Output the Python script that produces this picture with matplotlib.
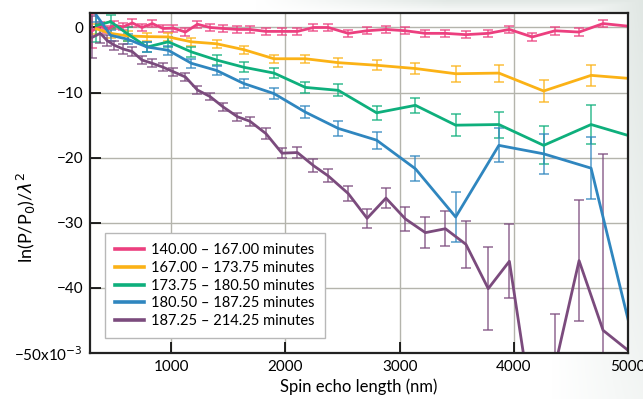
import numpy as np
import matplotlib.pyplot as plt
from matplotlib.colors import to_rgba
from matplotlib.lines import Line2D

plt.rcParams['font.family'] = 'Lato'
plt.rcParams['font.size'] = 11
plt.rcParams['mathtext.fontset'] = 'dejavusans'

# spin echo lengths (nm): fine grid and the coarser, pair-averaged grid
x_fine = [310, 380, 440, 500, 580, 660, 745, 835, 930, 1020, 1125, 1230, 1340, 1455,
          1580, 1690, 1830, 1970, 2105, 2245, 2375, 2550, 2715, 2880, 3050, 3225, 3400,
          3580, 3775, 3960, 4160, 4360, 4570, 4780, 5200]
x_coarse = [345, 470, 620, 790, 975, 1178, 1398, 1635, 1900, 2175, 2463, 2798, 3138,
            3490, 3868, 4260, 4675, 5100]

# ln(P/P0)/lambda^2 in units of 1e-3
y_140 = [-0.5, 0.3, -0.3, 0.35, 0.1, 0.7, 0.0, 0.6, -0.15, -0.1, -0.7, 0.5, 0.0, -0.15,
         -0.3, -0.3, -0.6, -0.6, -0.6, 0.0, 0.0, -0.9, -0.5, -0.3, -0.5, -0.9, -0.9, -1.1,
         -0.9, -0.3, -1.45, -0.5, -0.7, 0.6, -0.16]
e_140 = [2.6, 0.6, 0.6, 0.6, 0.55, 0.55, 0.55, 0.55, 0.55, 0.55, 0.55, 0.55, 0.55, 0.55,
         0.55, 0.55, 0.55, 0.55, 0.55, 0.55, 0.55, 0.55, 0.55, 0.55, 0.55, 0.55, 0.55, 0.55,
         0.55, 0.55, 0.6, 0.6, 0.6, 0.6, 0.0]

y_167 = [-0.2, -0.9, -1.3, -1.4, -1.45, -2.2, -2.5, -3.4, -4.8, -4.8, -5.4, -5.8, -6.3,
         -7.1, -7.0, -9.75, -7.35, -7.95]
e_167 = [0.8, 0.7, 0.7, 0.6, 0.6, 0.6, 0.6, 0.6, 0.6, 0.6, 0.7, 0.8, 0.9, 1.2, 1.3, 1.7,
         1.6, 0.0]

y_173 = [0.3, 0.9, -1.0, -3.0, -2.2, -3.75, -5.0, -6.1, -7.0, -9.2, -9.65, -13.1, -11.95,
         -15.0, -14.9, -18.1, -14.9, -17.1]
e_173 = [2.5, 1.0, 1.0, 0.8, 0.8, 0.8, 0.8, 0.8, 0.8, 0.8, 0.9, 1.1, 1.2, 1.7, 2.0, 2.9,
         3.0, 0.0]

y_180 = [1.9, -1.2, -1.8, -3.0, -3.5, -5.5, -6.6, -8.6, -10.15, -13.0, -15.5, -17.3,
         -21.7, -29.1, -18.1, -19.4, -21.6, -52.1]
e_180 = [1.0, 0.8, 0.8, 0.8, 0.7, 0.7, 0.7, 0.7, 0.8, 0.9, 1.1, 1.3, 1.9, 3.8, 2.6, 3.1,
         4.8, 0.0]

y_187 = [-1.5, -0.9, -2.0, -2.7, -3.3, -3.7, -5.0, -5.5, -6.1, -6.8, -7.6, -9.6, -10.6,
         -12.2, -13.7, -14.4, -16.3, -19.3, -19.2, -21.2, -22.8, -25.5, -29.3, -26.2,
         -29.4, -31.5, -30.9, -33.3, -40.1, -35.9, -59.0, -52.0, -35.8, -46.5, -52.4]
e_187 = [3.2, 1.5, 0.8, 0.7, 0.7, 0.7, 0.6, 0.6, 0.6, 0.6, 0.6, 0.6, 0.6, 0.6, 0.6, 0.7,
         0.8, 0.8, 0.9, 1.0, 1.0, 1.2, 1.5, 1.5, 1.9, 2.4, 2.7, 3.6, 6.4, 5.7, 8.0, 8.0,
         9.3, 27.0, 0.0]

labels = ["140.00 \u2013 167.00 minutes", "167.00 \u2013 173.75 minutes",
          "173.75 \u2013 180.50 minutes", "180.50 \u2013 187.25 minutes",
          "187.25 \u2013 214.25 minutes"]
colors = ["#ec3f7f", "#fbb216", "#0eaf7c", "#2f86bf", "#7b4b7d"]

series = [(x_fine, y_140, e_140), (x_coarse, y_167, e_167), (x_coarse, y_173, e_173),
          (x_coarse, y_180, e_180), (x_fine, y_187, e_187)]

fig = plt.figure(figsize=(6.43, 3.99), dpi=100)

# soft grey shading towards the right and top edges of the page
bg = fig.add_axes([0, 0, 1, 1], zorder=-10)
bg.axis('off')
xx, yy = np.meshgrid(np.linspace(0, 1, 300), np.linspace(0, 1, 200))
shade = np.clip((xx - 0.86) / 0.14, 0, 1) * (0.35 + 0.5 * yy)
shade = np.maximum(shade, np.clip((yy - 0.965) / 0.035, 0, 1) * np.clip((xx - 0.4) / 0.3, 0, 1) * 0.8)
base = np.array([1.0, 1.0, 1.0])
tint = np.array([0.86, 0.89, 0.875])
img = base + (tint - base) * shade[..., None]
bg.imshow(img, origin='lower', extent=[0, 1, 0, 1], aspect='auto')
bg.set_xlim(0, 1)
bg.set_ylim(0, 1)

ax = fig.add_axes([0.140, 0.115, 0.837, 0.852])
ax.set_facecolor('white')

for (x, y, e), c in zip(series, colors):
    ecol = to_rgba(c, 0.7)
    ax.errorbar(x, y, yerr=e, color=c, lw=2.0, ecolor=ecol, elinewidth=1.3,
                capsize=3.5, capthick=1.3)

ax.set_xlim(290, 5000)
ax.set_ylim(-50, 2.2)
ax.set_xticks([1000, 2000, 3000, 4000, 5000])
ax.set_yticks([0, -10, -20, -30, -40, -50])
ax.set_yticklabels(["0", "\u221210", "\u221220", "\u221230", "\u221240",
                    "\u221250x10$^{-3}$"])
ax.tick_params(direction='in', length=8, width=1.2, top=False, right=False,
               labelsize=11, pad=5)
ax.grid(True, color='#b4b4ac', lw=1)
ax.set_axisbelow(True)
for s in ax.spines.values():
    s.set_color('#222222')
    s.set_linewidth(1.6)

ax.set_xlabel("Spin echo length (nm)", fontsize=12, labelpad=3)
ax.set_ylabel("ln(P/P$_0$)/$\\lambda^2$", fontsize=13)
ax.yaxis.set_label_coords(-0.097, 0.40)

handles = [Line2D([], [], color=c, lw=2.6) for c in colors]
leg = ax.legend(handles, labels, loc='lower left', bbox_to_anchor=(0.028, 0.044),
                borderaxespad=0, handlelength=2.0, handletextpad=0.45,
                labelspacing=0.25, fancybox=False, framealpha=1, edgecolor='#b8b8b8',
                borderpad=0.7, fontsize=10.5)
leg.get_frame().set_linewidth(1)

fig.savefig("out.png", dpi=100)
